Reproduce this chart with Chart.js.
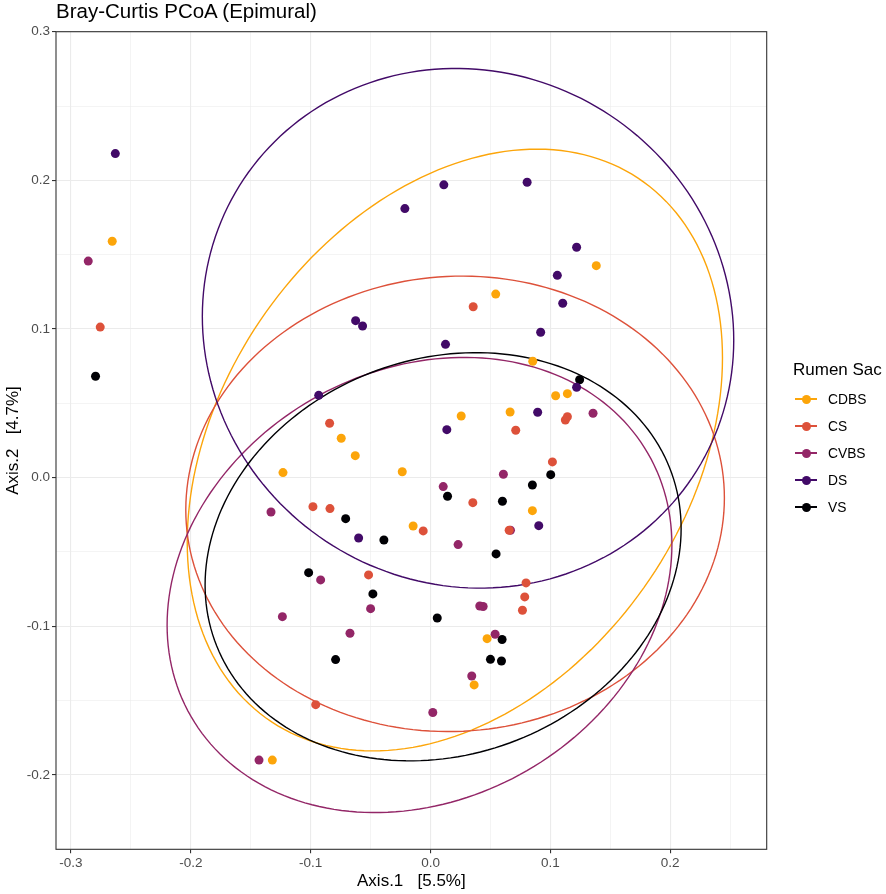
<!DOCTYPE html>
<html lang="en">

<head>
    <meta charset="UTF-8">
    <title>Bray-Curtis PCoA (Epimural)</title>
    <style>
        body {
            margin: 0;
            background: #fff;
            font-family: "Liberation Sans", Arial, sans-serif;
        }

        .quadro {
            position: relative;
            width: 886px;
            height: 894px;
        }

        #canvas_pcoa {
            position: absolute;
            left: 0;
            top: 0;
        }

        h1 {
            position: absolute;
            left: 56px;
            top: 1px;
            margin: 0;
            font-size: 20.5px;
            line-height: 20px;
            font-weight: normal;
            color: #000;
        }

        .legenda {
            position: absolute;
            left: 793px;
            top: 358px;
        }

        .legenda h2 {
            margin: 0;
            font-size: 17px;
            line-height: 24px;
            font-weight: normal;
        }

        .legenda ul {
            list-style: none;
            margin: 3.5px 0 0 0;
            padding: 0;
        }

        .legenda li {
            display: flex;
            align-items: center;
            height: 27px;
            font-size: 13.8px;
        }

        .chave {
            position: relative;
            width: 22px;
            height: 27px;
            margin-left: 2px;
            margin-right: 11px;
        }

        .chave::before {
            content: "";
            position: absolute;
            left: 0;
            right: 0;
            top: 12.8px;
            height: 1.4px;
            background: currentColor;
        }

        .chave::after {
            content: "";
            position: absolute;
            left: 6.5px;
            top: 9px;
            width: 9px;
            height: 9px;
            border-radius: 50%;
            background: currentColor;
        }
    </style>
</head>

<body>
    <div class="quadro">
        <canvas id="canvas_pcoa" width="886" height="894"></canvas>
        <h1>Bray-Curtis PCoA (Epimural)</h1>
        <div class="legenda">
            <h2>Rumen Sac</h2>
            <ul id="lista_legenda"></ul>
        </div>
    </div>

    <script src="https://cdn.jsdelivr.net/npm/chart.js"></script>
    <script>
        // grupos e cores
        const grupos = ['CDBS', 'CS', 'CVBS', 'DS', 'VS'];
        const cores = ['#FCA50A', '#DD513A', '#932667', '#420A68', '#000004'];

        // pontos (Axis.1, Axis.2)
        const cdbsX = [-0.2656, 0.1383, 0.0544, 0.0853, 0.1044, 0.1142, 0.0256, 0.0664, -0.0236, 0.085, -0.0145, 0.0472, 0.0364, -0.0745, -0.0628, -0.1231, -0.132];
        const cdbsY = [0.159, 0.1426, 0.1235, 0.0783, 0.0551, 0.0565, 0.0415, 0.0442, 0.004, -0.0222, -0.0325, -0.1083, -0.1394, 0.0265, 0.0148, 0.0034, -0.19];

        const csX = [-0.2756, 0.0356, 0.1125, 0.1142, 0.0711, 0.1017, 0.0353, -0.0061, 0.0656, 0.0797, 0.0786, 0.0767, -0.0842, -0.0981, -0.0839, -0.0517, -0.0958];
        const csY = [0.1013, 0.115, 0.0388, 0.041, 0.0319, 0.0106, -0.0168, -0.0358, -0.0354, -0.0708, -0.0802, -0.0892, 0.0366, -0.0195, -0.0208, -0.0654, -0.1527];

        const cvbsX = [-0.2856, 0.1356, 0.0608, 0.0106, 0.0667, 0.023, 0.0411, 0.0439, 0.0539, 0.0344, 0.0019, -0.1331, -0.0917, -0.05, -0.1236, -0.0672, -0.1431];
        const cvbsY = [0.1457, 0.0433, 0.0023, -0.006, -0.0354, -0.045, -0.0863, -0.0867, -0.1053, -0.1334, -0.158, -0.0231, -0.0688, -0.0881, -0.0935, -0.1047, -0.19];

        const dsX = [-0.263, -0.0625, -0.0567, -0.0933, 0.0111, 0.0806, -0.0214, 0.1219, 0.1058, 0.1103, 0.0919, 0.0125, 0.1219, 0.0894, 0.0136, 0.0903, -0.06];
        const dsY = [0.218, 0.1056, 0.102, 0.0554, 0.197, 0.1987, 0.181, 0.155, 0.1361, 0.1173, 0.0978, 0.0897, 0.0608, 0.044, 0.0323, -0.0323, -0.0406];

        const vsX = [-0.2795, 0.1244, 0.1003, 0.085, 0.0142, 0.06, -0.0389, 0.0547, 0.0056, 0.0597, 0.05, 0.0592, -0.0708, -0.1017, -0.0481, -0.0792];
        const vsY = [0.0682, 0.0659, 0.002, -0.0049, -0.0125, -0.0159, -0.0419, -0.0513, -0.0944, -0.1089, -0.1222, -0.1233, -0.0276, -0.0639, -0.0782, -0.1224];

        // elipses de cada grupo: centro, meia largura, meia altura, deslocamento em y do ponto mais a direita
        const elipseCx = [0.0203, 0.0205, -0.0092, 0.0313, 0.0105];
        const elipseCy = [0.0186, -0.0176, -0.0722, 0.1005, -0.0532];
        const elipseMeiaLarg = [0.2233, 0.2247, 0.2106, 0.2217, 0.1986];
        const elipseMeiaAlt = [0.2024, 0.1532, 0.1531, 0.1748, 0.1373];
        const elipseDyDireita = [0.062, 0.004, 0.027, -0.008, 0.019];

        // eixos
        const xLimites = [-0.3125, 0.2805];
        const yLimites = [-0.25, 0.30];
        const xTicks = [-0.3, -0.25, -0.2, -0.15, -0.1, -0.05, 0.0, 0.05, 0.1, 0.15, 0.2, 0.25];
        const yTicks = [-0.25, -0.2, -0.15, -0.1, -0.05, 0.0, 0.05, 0.1, 0.15, 0.2, 0.25, 0.3];

        const xs = [cdbsX, csX, cvbsX, dsX, vsX];
        const ys = [cdbsY, csY, cvbsY, dsY, vsY];

        function ehPrincipal(v) {
            return Math.abs(Math.round(v * 20)) % 2 === 0;
        }

        function rotulo(v) {
            if (!ehPrincipal(v)) return '';
            let r = Math.round(v * 10) / 10;
            if (r === 0) return '0.0';
            return r.toFixed(1);
        }

        // legenda em html
        const lista = document.getElementById('lista_legenda');
        grupos.forEach(function (g, i) {
            const li = document.createElement('li');
            const chave = document.createElement('span');
            chave.className = 'chave';
            chave.style.color = cores[i];
            li.appendChild(chave);
            li.appendChild(document.createTextNode(g));
            lista.appendChild(li);
        });

        // desenha as elipses usando as escalas do grafico
        const pluginElipses = {
            id: 'elipses',
            beforeDatasetsDraw(chart) {
                const ctx = chart.ctx;
                const sx = chart.scales.x;
                const sy = chart.scales.y;
                const area = chart.chartArea;
                ctx.save();
                ctx.beginPath();
                ctx.rect(area.left, area.top, area.right - area.left, area.bottom - area.top);
                ctx.clip();
                ctx.lineWidth = 1.4;
                for (let i = 0; i < grupos.length; i++) {
                    const fi = Math.acos(elipseDyDireita[i] / elipseMeiaAlt[i]);
                    ctx.strokeStyle = cores[i];
                    ctx.beginPath();
                    for (let k = 0; k <= 200; k++) {
                        const t = k / 200 * Math.PI * 2;
                        const vx = elipseCx[i] + elipseMeiaLarg[i] * Math.cos(t);
                        const vy = elipseCy[i] + elipseMeiaAlt[i] * Math.cos(t - fi);
                        const px = sx.getPixelForValue(vx);
                        const py = sy.getPixelForValue(vy);
                        if (k === 0) ctx.moveTo(px, py); else ctx.lineTo(px, py);
                    }
                    ctx.closePath();
                    ctx.stroke();
                }
                ctx.restore();
            }
        };

        // moldura do painel (theme_bw)
        const pluginMoldura = {
            id: 'moldura',
            afterDatasetsDraw(chart) {
                const a = chart.chartArea;
                const ctx = chart.ctx;
                ctx.save();
                ctx.strokeStyle = '#333333';
                ctx.lineWidth = 1.1;
                ctx.strokeRect(a.left, a.top, a.right - a.left, a.bottom - a.top);
                ctx.restore();
            }
        };

        const dados = {
            datasets: grupos.map(function (g, i) {
                return {
                    label: g,
                    data: xs[i].map(function (x, k) { return { x: x, y: ys[i][k] }; }),
                    backgroundColor: cores[i],
                    borderWidth: 0,
                    pointRadius: 4.5,
                    pointHoverRadius: 4.5
                };
            })
        };

        const fonteTick = { family: '"Liberation Sans", Arial, sans-serif', size: 13.5 };
        const fonteTitulo = { family: '"Liberation Sans", Arial, sans-serif', size: 17 };

        function gradeEixo() {
            return {
                color: '#EBEBEB',
                lineWidth: function (c) { return c.tick && ehPrincipal(c.tick.value) ? 1.1 : 0.55; },
                tickColor: function (c) { return c.tick && ehPrincipal(c.tick.value) ? '#333333' : 'rgba(0,0,0,0)'; },
                tickLength: 4,
                tickWidth: 1.1
            };
        }

        const config = {
            type: 'scatter',
            data: dados,
            options: {
                responsive: false,
                animation: false,
                events: [],
                layout: { padding: { left: 0, right: 119.3, top: 31.7, bottom: 0 } },
                plugins: {
                    legend: { display: false },
                    tooltip: { enabled: false }
                },
                scales: {
                    x: {
                        type: 'linear',
                        min: xLimites[0],
                        max: xLimites[1],
                        afterBuildTicks: function (s) { s.ticks = xTicks.map(function (v) { return { value: v }; }); },
                        afterFit: function (s) { s.height = 44.7; },
                        grid: gradeEixo(),
                        border: { display: false },
                        ticks: {
                            autoSkip: false,
                            maxRotation: 0,
                            padding: 2,
                            color: '#4D4D4D',
                            font: fonteTick,
                            callback: function (v) { return rotulo(v); }
                        },
                        title: {
                            display: true,
                            text: 'Axis.1   [5.5%]',
                            color: '#000',
                            font: fonteTitulo,
                            padding: { top: 2, bottom: 2 }
                        }
                    },
                    y: {
                        type: 'linear',
                        min: yLimites[0],
                        max: yLimites[1],
                        afterBuildTicks: function (s) { s.ticks = yTicks.map(function (v) { return { value: v }; }); },
                        afterFit: function (s) { s.width = 56; },
                        grid: gradeEixo(),
                        border: { display: false },
                        ticks: {
                            autoSkip: false,
                            padding: 2,
                            color: '#4D4D4D',
                            font: fonteTick,
                            callback: function (v) { return rotulo(v); }
                        },
                        title: {
                            display: true,
                            text: 'Axis.2   [4.7%]',
                            color: '#000',
                            font: fonteTitulo,
                            padding: { top: 3, bottom: 2 }
                        }
                    }
                }
            },
            plugins: [pluginElipses, pluginMoldura]
        };

        let grafico = new Chart(document.getElementById('canvas_pcoa'), config);
    </script>
</body>

</html>
